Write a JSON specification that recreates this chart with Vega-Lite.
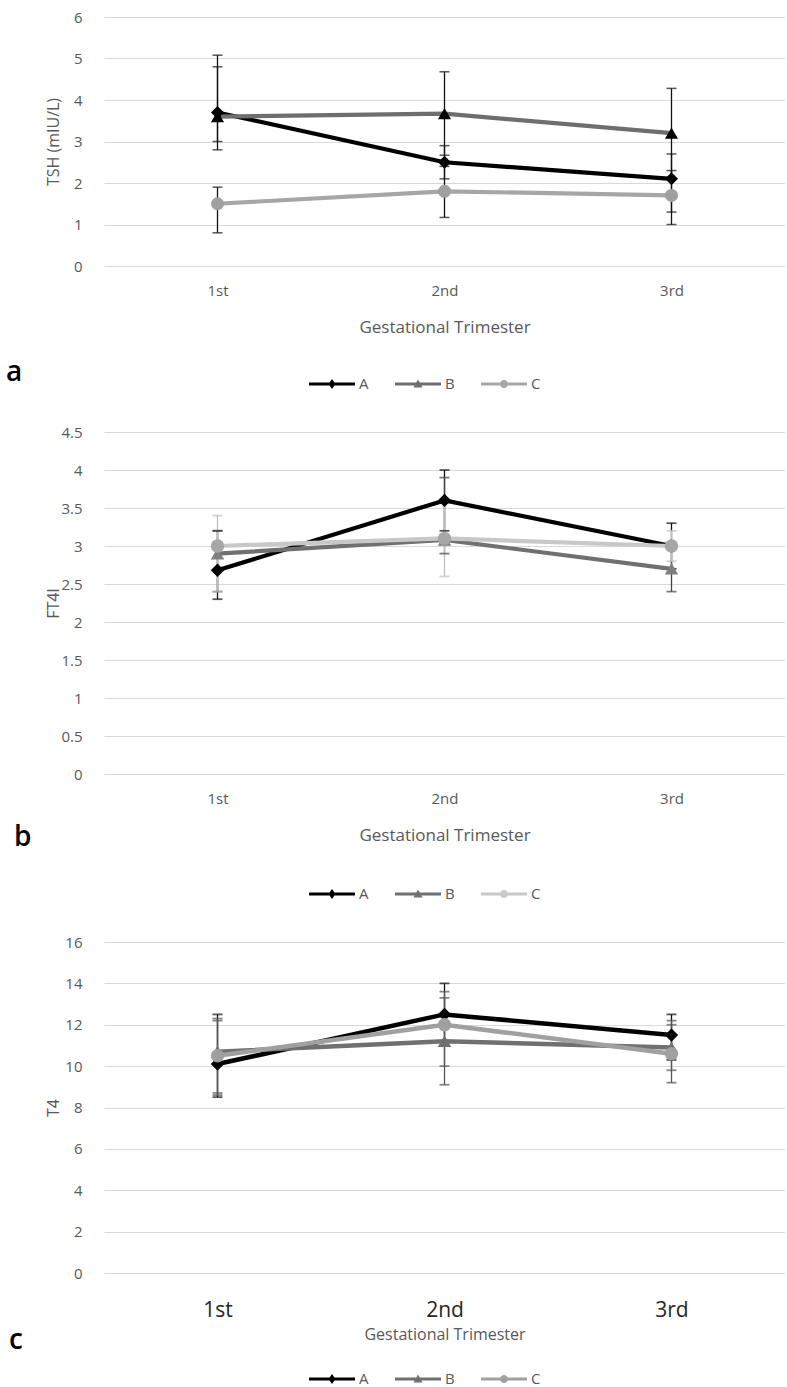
{
  "$schema": "https://vega.github.io/schema/vega-lite/v6.json",
  "padding": {"left": 6, "top": 10, "right": 0, "bottom": 0},
  "background": "white",
  "config": {
    "font": "Open Sans",
    "view": {"stroke": null},
    "axisY": {"domain": false, "ticks": false, "grid": true, "gridColor": "#d9d9d9", "gridWidth": 1.2, "labelColor": "#595959", "labelFontSize": 15, "labelPadding": 22, "labelOverlap": false, "labelFlush": false, "labelExpr": "'' + datum.value", "minExtent": 38, "maxExtent": 38, "titlePadding": 5, "titleColor": "#595959", "titleFontSize": 16, "titleFontWeight": "normal"},
    "axisX": {"domain": false, "ticks": false, "grid": false, "labelColor": "#595959", "labelFontSize": 15, "labelPadding": 17, "labelAngle": 0, "titleColor": "#595959", "titleFontSize": 17, "titleFontWeight": "normal", "titlePadding": 21},
    "legend": {"padding": 0, "labelFontSize": 15, "labelColor": "#595959", "symbolSize": 400, "labelOffset": 17, "columnPadding": 26, "title": null}
  },
  "datasets": {
    "tsh": [
      {"series": "A", "tri": "1st", "val": 3.7, "lo": 2.8, "hi": 5.08},
      {"series": "A", "tri": "2nd", "val": 2.5, "lo": 2.1, "hi": 2.9},
      {"series": "A", "tri": "3rd", "val": 2.1, "lo": 1.0, "hi": 2.7},
      {"series": "B", "tri": "1st", "val": 3.6, "lo": 3.0, "hi": 4.8},
      {"series": "B", "tri": "2nd", "val": 3.67, "lo": 2.67, "hi": 4.68},
      {"series": "B", "tri": "3rd", "val": 3.2, "lo": 2.1, "hi": 4.28},
      {"series": "C", "tri": "1st", "val": 1.5, "lo": 0.8, "hi": 1.9},
      {"series": "C", "tri": "2nd", "val": 1.8, "lo": 1.17, "hi": 2.4},
      {"series": "C", "tri": "3rd", "val": 1.7, "lo": 1.3, "hi": 2.3}
    ],
    "ft4i": [
      {"series": "A", "tri": "1st", "val": 2.68, "lo": 2.3, "hi": 3.2},
      {"series": "A", "tri": "2nd", "val": 3.6, "lo": 3.2, "hi": 4.0},
      {"series": "A", "tri": "3rd", "val": 3.0, "lo": 2.7, "hi": 3.3},
      {"series": "B", "tri": "1st", "val": 2.9, "lo": 2.4, "hi": 3.2},
      {"series": "B", "tri": "2nd", "val": 3.08, "lo": 2.9, "hi": 3.9},
      {"series": "B", "tri": "3rd", "val": 2.7, "lo": 2.4, "hi": 3.0},
      {"series": "C", "tri": "1st", "val": 3.0, "lo": 2.4, "hi": 3.4},
      {"series": "C", "tri": "2nd", "val": 3.1, "lo": 2.6, "hi": 3.6},
      {"series": "C", "tri": "3rd", "val": 3.0, "lo": 2.8, "hi": 3.2}
    ],
    "t4": [
      {"series": "A", "tri": "1st", "val": 10.1, "lo": 8.5, "hi": 12.5},
      {"series": "A", "tri": "2nd", "val": 12.5, "lo": 11.0, "hi": 14.0},
      {"series": "A", "tri": "3rd", "val": 11.5, "lo": 10.3, "hi": 12.5},
      {"series": "B", "tri": "1st", "val": 10.7, "lo": 8.7, "hi": 12.2},
      {"series": "B", "tri": "2nd", "val": 11.2, "lo": 9.1, "hi": 13.3},
      {"series": "B", "tri": "3rd", "val": 10.9, "lo": 9.2, "hi": 12.2},
      {"series": "C", "tri": "1st", "val": 10.5, "lo": 8.6, "hi": 12.3},
      {"series": "C", "tri": "2nd", "val": 12.0, "lo": 10.0, "hi": 13.6},
      {"series": "C", "tri": "3rd", "val": 10.6, "lo": 9.8, "hi": 12.0}
    ]
  },
  "spacing": 33,
  "resolve": {"scale": {"color": "independent", "shape": "independent", "x": "independent", "y": "independent"}, "legend": {"color": "independent", "shape": "independent"}},
  "vconcat": [
    {
      "width": 681, "height": 249,
      "data": {"name": "tsh"},
      "title": {"text": "a", "orient": "bottom", "anchor": "start", "frame": "group", "dx": -98, "offset": -33, "fontSize": 28, "fontWeight": 600, "color": "#000"},
      "encoding": {"x": {"field": "tri", "type": "ordinal", "sort": ["1st", "2nd", "3rd"], "scale": {"type": "point", "padding": 0.5}, "axis": {"title": "Gestational Trimester"}}},
      "layer": [
        {
          "layer": [
            {"mark": {"type": "rule", "strokeWidth": 1.3}, "encoding": {"y": {"field": "lo", "type": "quantitative", "title": "TSH (mIU/L)", "scale": {"domain": [0, 6], "nice": false}, "axis": {"values": [0, 1, 2, 3, 4, 5, 6]}}, "y2": {"field": "hi"}, "color": {"field": "series", "type": "nominal", "scale": {"domain": ["A", "B", "C"], "range": ["#111111", "#111111", "#111111"]}, "legend": null}}},
            {"mark": {"type": "tick", "thickness": 1.5, "size": 10}, "encoding": {"y": {"field": "lo", "type": "quantitative", "title": "TSH (mIU/L)", "axis": {"values": [0, 1, 2, 3, 4, 5, 6]}}, "color": {"field": "series", "type": "nominal", "legend": null}}},
            {"mark": {"type": "tick", "thickness": 1.5, "size": 10}, "encoding": {"y": {"field": "hi", "type": "quantitative", "title": "TSH (mIU/L)", "axis": {"values": [0, 1, 2, 3, 4, 5, 6]}}, "color": {"field": "series", "type": "nominal", "legend": null}}}
          ]
        },
        {"mark": {"type": "line", "strokeWidth": 4.2}, "encoding": {"y": {"field": "val", "type": "quantitative", "title": "TSH (mIU/L)", "axis": {"values": [0, 1, 2, 3, 4, 5, 6]}}, "color": {"field": "series", "type": "nominal", "scale": {"domain": ["A", "B", "C"], "range": ["#000000", "#6e6e6e", "#a6a6a6"]},
          "legend": {"orient": "none", "legendX": 218, "legendY": 357, "direction": "horizontal", "symbolType": "M-2.3,-0.15H2.3V0.15H-2.3Z",
            "encode": {"symbols": {"update": {
              "shape": {"signal": "datum.value === 'A' ? 'M-2.3,-0.15H2.3V0.15H-2.3Z M0,-0.5L0.35,0L0,0.5L-0.35,0Z' : datum.value === 'B' ? 'M-2.3,-0.15H2.3V0.15H-2.3Z M0,-0.45L0.45,0.35L-0.45,0.35Z' : 'M-2.3,-0.15H2.3V0.15H-2.3Z M-0.4,0A0.4,0.4 0 1,1 0.4,0A0.4,0.4 0 1,1 -0.4,0Z'"},
              "fill": {"signal": "datum.value === 'A' ? '#000000' : datum.value === 'B' ? '#6e6e6e' : '#a6a6a6'"},
              "stroke": {"value": "transparent"}, "strokeWidth": {"value": 0}, "opacity": {"value": 1}}}}}}}},
        {"mark": {"type": "point", "filled": true, "size": 170, "opacity": 1}, "encoding": {"y": {"field": "val", "type": "quantitative", "title": "TSH (mIU/L)", "axis": {"values": [0, 1, 2, 3, 4, 5, 6]}}, "color": {"field": "series", "type": "nominal", "scale": {"domain": ["A", "B", "C"], "range": ["#000000", "#000000", "#a0a0a0"]}, "legend": null}, "shape": {"field": "series", "type": "nominal", "scale": {"domain": ["A", "B", "C"], "range": ["diamond", "triangle-up", "circle"]}, "legend": null}}}
      ],
      "resolve": {"scale": {"color": "independent"}}
    },
    {
      "width": 681, "height": 342,
      "data": {"name": "ft4i"},
      "title": {"text": "b", "orient": "bottom", "anchor": "start", "frame": "group", "dx": -90, "offset": -78, "fontSize": 28, "fontWeight": 600, "color": "#000"},
      "encoding": {"x": {"field": "tri", "type": "ordinal", "sort": ["1st", "2nd", "3rd"], "scale": {"type": "point", "padding": 0.5}, "axis": {"title": "Gestational Trimester"}}},
      "layer": [
        {
          "layer": [
            {"mark": {"type": "rule", "strokeWidth": 1.3}, "encoding": {"y": {"field": "lo", "type": "quantitative", "title": "FT4I", "scale": {"domain": [0, 4.5], "nice": false}, "axis": {"values": [0, 0.5, 1, 1.5, 2, 2.5, 3, 3.5, 4, 4.5]}}, "y2": {"field": "hi"}, "color": {"field": "series", "type": "nominal", "scale": {"domain": ["A", "B", "C"], "range": ["#111111", "#444444", "#bfbfbf"]}, "legend": null}}},
            {"mark": {"type": "tick", "thickness": 1.8, "size": 10}, "encoding": {"y": {"field": "lo", "type": "quantitative", "title": "FT4I", "axis": {"values": [0, 0.5, 1, 1.5, 2, 2.5, 3, 3.5, 4, 4.5]}}, "color": {"field": "series", "type": "nominal", "legend": null}}},
            {"mark": {"type": "tick", "thickness": 1.8, "size": 10}, "encoding": {"y": {"field": "hi", "type": "quantitative", "title": "FT4I", "axis": {"values": [0, 0.5, 1, 1.5, 2, 2.5, 3, 3.5, 4, 4.5]}}, "color": {"field": "series", "type": "nominal", "legend": null}}}
          ]
        },
        {"mark": {"type": "line", "strokeWidth": 4.2}, "encoding": {"y": {"field": "val", "type": "quantitative", "title": "FT4I", "axis": {"values": [0, 0.5, 1, 1.5, 2, 2.5, 3, 3.5, 4, 4.5]}}, "color": {"field": "series", "type": "nominal", "scale": {"domain": ["A", "B", "C"], "range": ["#000000", "#707070", "#c8c8c8"]},
          "legend": {"orient": "none", "legendX": 218, "legendY": 452, "direction": "horizontal", "symbolType": "M-2.3,-0.15H2.3V0.15H-2.3Z",
            "encode": {"symbols": {"update": {
              "shape": {"signal": "datum.value === 'A' ? 'M-2.3,-0.15H2.3V0.15H-2.3Z M0,-0.5L0.35,0L0,0.5L-0.35,0Z' : datum.value === 'B' ? 'M-2.3,-0.15H2.3V0.15H-2.3Z M0,-0.45L0.45,0.35L-0.45,0.35Z' : 'M-2.3,-0.15H2.3V0.15H-2.3Z M-0.4,0A0.4,0.4 0 1,1 0.4,0A0.4,0.4 0 1,1 -0.4,0Z'"},
              "fill": {"signal": "datum.value === 'A' ? '#000000' : datum.value === 'B' ? '#707070' : '#c8c8c8'"},
              "stroke": {"value": "transparent"}, "strokeWidth": {"value": 0}, "opacity": {"value": 1}}}}}}}},
        {"mark": {"type": "point", "filled": true, "size": 180, "opacity": 1}, "encoding": {"y": {"field": "val", "type": "quantitative", "title": "FT4I", "axis": {"values": [0, 0.5, 1, 1.5, 2, 2.5, 3, 3.5, 4, 4.5]}}, "color": {"field": "series", "type": "nominal", "scale": {"domain": ["A", "B", "C"], "range": ["#000000", "#7f7f7f", "#a6a6a6"]}, "legend": null}, "shape": {"field": "series", "type": "nominal", "scale": {"domain": ["A", "B", "C"], "range": ["diamond", "triangle-up", "circle"]}, "legend": null}}}
      ],
      "resolve": {"scale": {"color": "independent"}}
    },
    {
      "width": 681, "height": 331,
      "data": {"name": "t4"},
      "title": {"text": "c", "orient": "bottom", "anchor": "start", "frame": "group", "dx": -95, "offset": -60, "fontSize": 28, "fontWeight": 600, "color": "#000"},
      "encoding": {"x": {"field": "tri", "type": "ordinal", "sort": ["1st", "2nd", "3rd"], "scale": {"type": "point", "padding": 0.5}, "axis": {"title": "Gestational Trimester", "labelFontSize": 21, "labelColor": "#262626", "labelPadding": 26, "titlePadding": 6, "titleFontSize": 16}}},
      "layer": [
        {
          "layer": [
            {"mark": {"type": "rule", "strokeWidth": 1.3}, "encoding": {"y": {"field": "lo", "type": "quantitative", "title": "T4", "scale": {"domain": [0, 16], "nice": false}, "axis": {"values": [0, 2, 4, 6, 8, 10, 12, 14, 16]}}, "y2": {"field": "hi"}, "color": {"field": "series", "type": "nominal", "scale": {"domain": ["A", "B", "C"], "range": ["#111111", "#555555", "#555555"]}, "legend": null}}},
            {"mark": {"type": "tick", "thickness": 1.8, "size": 10}, "encoding": {"y": {"field": "lo", "type": "quantitative", "title": "T4", "axis": {"values": [0, 2, 4, 6, 8, 10, 12, 14, 16]}}, "color": {"field": "series", "type": "nominal", "legend": null}}},
            {"mark": {"type": "tick", "thickness": 1.8, "size": 10}, "encoding": {"y": {"field": "hi", "type": "quantitative", "title": "T4", "axis": {"values": [0, 2, 4, 6, 8, 10, 12, 14, 16]}}, "color": {"field": "series", "type": "nominal", "legend": null}}}
          ]
        },
        {"mark": {"type": "line", "strokeWidth": 4.5}, "encoding": {"y": {"field": "val", "type": "quantitative", "title": "T4", "axis": {"values": [0, 2, 4, 6, 8, 10, 12, 14, 16]}}, "color": {"field": "series", "type": "nominal", "scale": {"domain": ["A", "B", "C"], "range": ["#000000", "#707070", "#a0a0a0"]},
          "legend": {"orient": "none", "legendX": 218, "legendY": 427, "direction": "horizontal", "symbolType": "M-2.3,-0.15H2.3V0.15H-2.3Z",
            "encode": {"symbols": {"update": {
              "shape": {"signal": "datum.value === 'A' ? 'M-2.3,-0.15H2.3V0.15H-2.3Z M0,-0.5L0.35,0L0,0.5L-0.35,0Z' : datum.value === 'B' ? 'M-2.3,-0.15H2.3V0.15H-2.3Z M0,-0.45L0.45,0.35L-0.45,0.35Z' : 'M-2.3,-0.15H2.3V0.15H-2.3Z M-0.4,0A0.4,0.4 0 1,1 0.4,0A0.4,0.4 0 1,1 -0.4,0Z'"},
              "fill": {"signal": "datum.value === 'A' ? '#000000' : datum.value === 'B' ? '#707070' : '#a0a0a0'"},
              "stroke": {"value": "transparent"}, "strokeWidth": {"value": 0}, "opacity": {"value": 1}}}}}}}},
        {"mark": {"type": "point", "filled": true, "size": 180, "opacity": 1}, "encoding": {"y": {"field": "val", "type": "quantitative", "title": "T4", "axis": {"values": [0, 2, 4, 6, 8, 10, 12, 14, 16]}}, "color": {"field": "series", "type": "nominal", "scale": {"domain": ["A", "B", "C"], "range": ["#000000", "#707070", "#a0a0a0"]}, "legend": null}, "shape": {"field": "series", "type": "nominal", "scale": {"domain": ["A", "B", "C"], "range": ["diamond", "triangle-up", "circle"]}, "legend": null}}}
      ],
      "resolve": {"scale": {"color": "independent"}}
    }
  ]
}
